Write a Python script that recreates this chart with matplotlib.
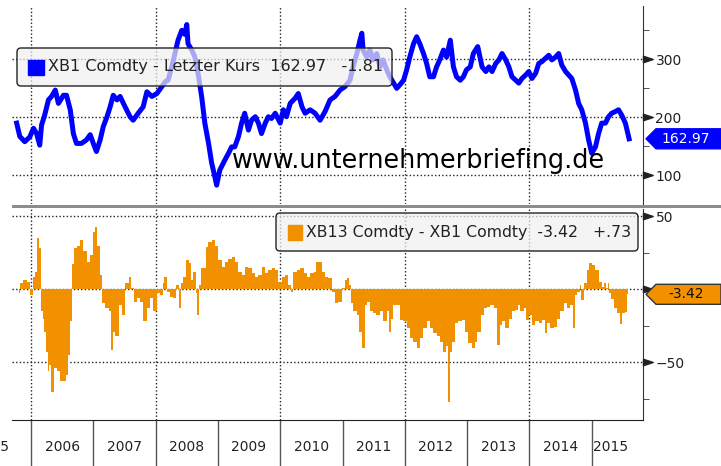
import matplotlib
matplotlib.use("Agg")
from matplotlib import pyplot as plt
from matplotlib.patches import FancyBboxPatch, Polygon, Rectangle
from matplotlib.path import Path
import matplotlib.transforms as mtransforms

# XB1 Comdty - last price
xb1_dates = [
    2005.77, 2005.82, 2005.90, 2005.98, 2006.04, 2006.09, 2006.14, 2006.17, 2006.22, 2006.28,
    2006.33, 2006.39, 2006.44, 2006.52, 2006.57, 2006.63, 2006.68, 2006.73, 2006.81, 2006.89,
    2006.95, 2007.00, 2007.05, 2007.11, 2007.16, 2007.22, 2007.27, 2007.32, 2007.38, 2007.43,
    2007.51, 2007.59, 2007.64, 2007.72, 2007.80, 2007.86, 2007.94, 2008.02, 2008.10, 2008.16,
    2008.20, 2008.26, 2008.31, 2008.36, 2008.42, 2008.47, 2008.50, 2008.52, 2008.58, 2008.63,
    2008.69, 2008.74, 2008.79, 2008.85, 2008.90, 2008.95, 2008.98, 2009.03, 2009.11, 2009.17,
    2009.22, 2009.27, 2009.33, 2009.38, 2009.43, 2009.49, 2009.54, 2009.60, 2009.65, 2009.70,
    2009.76, 2009.81, 2009.86, 2009.92, 2010.00, 2010.05, 2010.10, 2010.16, 2010.24, 2010.29,
    2010.35, 2010.40, 2010.48, 2010.56, 2010.64, 2010.72, 2010.80, 2010.88, 2010.96, 2011.04,
    2011.12, 2011.17, 2011.23, 2011.28, 2011.31, 2011.33, 2011.39, 2011.44, 2011.49, 2011.55,
    2011.60, 2011.65, 2011.71, 2011.76, 2011.82, 2011.87, 2011.92, 2011.98, 2012.03, 2012.08,
    2012.14, 2012.19, 2012.24, 2012.30, 2012.35, 2012.40, 2012.46, 2012.51, 2012.56, 2012.62,
    2012.67, 2012.73, 2012.78, 2012.83, 2012.89, 2012.94, 2012.99, 2013.05, 2013.10, 2013.17,
    2013.24, 2013.30, 2013.35, 2013.40, 2013.46, 2013.51, 2013.56, 2013.62, 2013.67, 2013.72,
    2013.78, 2013.83, 2013.88, 2013.94, 2013.99, 2014.04, 2014.10, 2014.15, 2014.20, 2014.26,
    2014.31, 2014.36, 2014.42, 2014.47, 2014.52, 2014.58, 2014.63, 2014.68, 2014.74, 2014.79,
    2014.84, 2014.90, 2014.95, 2015.00, 2015.06, 2015.11, 2015.16, 2015.22, 2015.27, 2015.32,
    2015.38, 2015.43, 2015.48, 2015.54, 2015.58, 2015.60,
]
xb1_values = [
    190, 167, 158, 166, 181, 172, 152, 187, 204, 230,
    236, 247, 224, 238, 238, 213, 172, 155, 155, 161,
    170, 155, 141, 161, 184, 201, 218, 238, 230, 236,
    218, 201, 195, 207, 218, 244, 236, 241, 253, 262,
    264, 287, 310, 333, 350, 343, 360, 327, 316, 304,
    270, 235, 190, 155, 121, 98, 83, 109, 126, 138,
    149, 149, 167, 190, 207, 178, 195, 201, 190, 172,
    190, 201, 198, 207, 190, 213, 201, 224, 233, 241,
    218, 207, 213, 207, 195, 210, 230, 236, 247, 253,
    264, 287, 310, 333, 345, 316, 304, 316, 299, 310,
    287, 299, 282, 270, 259, 250, 256, 264, 282, 304,
    327, 339, 327, 310, 293, 270, 270, 287, 299, 316,
    304, 333, 287, 270, 264, 270, 282, 287, 310, 322,
    287, 279, 287, 279, 293, 299, 310, 299, 287, 270,
    264, 259, 267, 273, 279, 267, 276, 293, 296, 302,
    307, 299, 304, 310, 290, 279, 273, 267, 247, 224,
    213, 190, 161, 138, 149, 172, 190, 190, 201, 207,
    210, 213, 204, 190, 172, 162.97,
]

# XB13 Comdty - XB1 Comdty spread
spread_dates = [
    2005.80, 2005.85, 2005.90, 2005.96, 2006.01, 2006.05, 2006.08, 2006.12, 2006.14, 2006.17,
    2006.20, 2006.22, 2006.25, 2006.28, 2006.30, 2006.35, 2006.39, 2006.44, 2006.49, 2006.55,
    2006.58, 2006.61, 2006.65, 2006.68, 2006.71, 2006.76, 2006.81, 2006.87, 2006.92, 2006.97,
    2007.01, 2007.04, 2007.08, 2007.12, 2007.16, 2007.22, 2007.27, 2007.30, 2007.33, 2007.38,
    2007.43, 2007.48, 2007.54, 2007.59, 2007.63, 2007.67, 2007.72, 2007.78, 2007.83, 2007.88,
    2007.94, 2007.99, 2008.04, 2008.10, 2008.13, 2008.15, 2008.20, 2008.26, 2008.31, 2008.36,
    2008.39, 2008.42, 2008.47, 2008.52, 2008.55, 2008.58, 2008.63, 2008.66, 2008.68, 2008.71,
    2008.74, 2008.79, 2008.82, 2008.87, 2008.93, 2008.98, 2009.03, 2009.09, 2009.14, 2009.19,
    2009.25, 2009.30, 2009.35, 2009.41, 2009.46, 2009.52, 2009.57, 2009.62, 2009.68, 2009.73,
    2009.78, 2009.84, 2009.89, 2009.94, 2010.00, 2010.05, 2010.10, 2010.16, 2010.18, 2010.24,
    2010.29, 2010.35, 2010.40, 2010.45, 2010.51, 2010.56, 2010.60, 2010.64, 2010.69, 2010.75,
    2010.80, 2010.85, 2010.91, 2010.96, 2011.01, 2011.07, 2011.09, 2011.12, 2011.15, 2011.20,
    2011.25, 2011.28, 2011.31, 2011.33, 2011.39, 2011.41, 2011.47, 2011.52, 2011.57, 2011.63,
    2011.68, 2011.74, 2011.76, 2011.79, 2011.84, 2011.90, 2011.95, 2012.00, 2012.06, 2012.11,
    2012.16, 2012.22, 2012.27, 2012.32, 2012.38, 2012.43, 2012.48, 2012.54, 2012.59, 2012.65,
    2012.67, 2012.71, 2012.74, 2012.78, 2012.83, 2012.89, 2012.94, 2012.99, 2013.05, 2013.10,
    2013.14, 2013.19, 2013.24, 2013.30, 2013.35, 2013.40, 2013.46, 2013.51, 2013.54, 2013.59,
    2013.64, 2013.70, 2013.75, 2013.80, 2013.83, 2013.88, 2013.94, 2013.96, 2014.02, 2014.07,
    2014.12, 2014.18, 2014.23, 2014.27, 2014.31, 2014.36, 2014.42, 2014.47, 2014.52, 2014.58,
    2014.63, 2014.68, 2014.71, 2014.74, 2014.79, 2014.82, 2014.85, 2014.90, 2014.94, 2014.98,
    2015.03, 2015.08, 2015.14, 2015.19, 2015.22, 2015.24, 2015.27, 2015.30, 2015.33, 2015.38,
    2015.43, 2015.47, 2015.51, 2015.55, 2015.58,
]
spread_values = [
    -2.7, 4.1, 6.4, 5.3, -3.9, 8.7, 12.0, 35.0, 28.0, -15.0,
    -20.0, -29.0, -43.0, -56.0, -52.0, -70.0, -54.0, -56.0, -63.0, -63.0,
    -59.0, -45.0, -22.0, 17.0, 28.0, 30.0, 34.0, 26.0, 19.0, 23.5,
    39.5, 43.0, 30.0, 10.0, -9.6, -13.0, -15.0, -41.5, -29.0, -32.0,
    -10.7, -17.6, 4.1, 8.7, 0.7, -8.4, -6.2, -8.4, -22.0, -13.0,
    -6.2, -15.0, -2.7, -3.9, 4.1, 8.7, -1.6, -5.0, -6.2, 3.0,
    -13.0, 4.1, 8.7, 20.0, 17.8, 6.4, 12.0, -2.7, -17.6, 3.0,
    14.4, 14.4, 29.0, 32.6, 33.8, 30.0, 20.0, 15.5, 19.0, 21.0,
    22.4, 19.0, 12.0, 10.0, 15.5, 14.4, 11.0, 8.7, 10.0, 15.5,
    11.0, 13.2, 14.4, 13.2, 5.3, 8.7, 10.0, 3.0, -1.6, 12.0,
    13.2, 14.4, 11.0, 8.7, 11.0, 12.0, 19.0, 19.0, 12.0, 8.7,
    7.5, -1.6, -9.6, -8.4, 0.7, 6.4, 7.5, 3.0, -9.6, -15.0,
    -17.6, -29.0, -29.0, -40.0, -10.7, -8.4, -15.0, -16.4, -17.6, -15.0,
    -22.0, -15.0, -29.0, -20.0, -10.7, -10.7, -21.0, -22.0, -26.7, -33.6,
    -36.0, -40.0, -33.6, -26.7, -22.0, -26.7, -30.0, -32.0, -36.0, -42.7,
    -39.0, -77.0, -42.7, -36.0, -23.0, -22.0, -21.0, -29.0, -37.0, -40.0,
    -36.0, -29.0, -17.6, -13.0, -12.0, -10.7, -13.0, -38.0, -24.4, -22.0,
    -26.7, -20.0, -15.0, -14.0, -10.7, -15.0, -13.0, -21.0, -17.6, -24.4,
    -22.0, -23.0, -21.0, -30.0, -23.0, -26.7, -25.6, -20.0, -15.0, -9.6,
    -13.0, -10.7, -26.7, -3.9, -1.6, 3.0, -7.3, 4.1, 13.2, 17.8,
    16.7, 13.2, 5.3, 1.8, 4.1, 0.7, 4.1, -2.7, -6.8, -12.6,
    -16.0, -24.0, -16.0, -15.3, -3.42,
]

last_xb1, chg_xb1 = 162.97, "-1.81"
last_spread, chg_spread = -3.42, "+.73"

year_bounds = list(range(2006, 2016))
year_labels = [str(y) for y in range(2005, 2016)]
year_label_pos = [2005.36, 2006.5, 2007.5, 2008.5, 2009.5, 2010.5, 2011.5,
                  2012.5, 2013.5, 2014.5, 2015.3]
grid_years = [2006, 2008, 2010, 2012, 2014]
top_ticks, top_minor = [100, 200, 300], [50, 150, 250, 350]
bot_ticks, bot_minor = [-50, 0, 50], [-75, -25, 25]

BLUE = "#0000ff"
ORANGE = "#f29100"
DOT = (0, (1, 1.6))

W, H = 721, 466
fig = plt.figure(figsize=(W / 100, H / 100), dpi=100)


def fx(px):
    return px / W


def fy(py):
    return 1 - py / H


ax1 = fig.add_axes([fx(12), fy(204), fx(643) - fx(12), fy(6) - fy(204)])
ax2 = fig.add_axes([fx(12), fy(420), fx(643) - fx(12), fy(209) - fy(420)])

tri = Path([(0, -1), (0, 1), (3, 0), (0, -1)],
           [Path.MOVETO, Path.LINETO, Path.LINETO, Path.CLOSEPOLY])

for ax, major, minor in ((ax1, top_ticks, top_minor), (ax2, bot_ticks, bot_minor)):
    ax.set_xlim(2005.695, 2015.823)
    for s in ["left", "top", "bottom"]:
        ax.spines[s].set_visible(False)
    ax.spines["right"].set_color("#333333")
    ax.yaxis.tick_right()
    ax.set_yticks(major)
    ax.set_yticks(minor, minor=True)
    ax.tick_params(axis="y", which="both", direction="out", colors="#333333",
                   labelcolor="#222222", labelsize=10, length=4, pad=5)
    ax.grid(axis="y", which="major", color="#222222", linestyle=DOT, lw=1)
    for g in grid_years:
        ax.axvline(g, color="#222222", linestyle=DOT, lw=1, zorder=1)
    trans = mtransforms.blended_transform_factory(ax.transAxes, ax.transData)
    ax.plot([1.0] * len(major), major, transform=trans, marker=tri, ms=14,
            color="#222222", ls="none", clip_on=False, zorder=5)

ax1.set_ylim(50.5, 392)
ax1.tick_params(axis="x", which="both", bottom=False, labelbottom=False)
ax1.plot(xb1_dates, xb1_values, color=BLUE, lw=3.6, zorder=3)

ax2.set_ylim(-89.5, 55)
ax2.fill_between(spread_dates, spread_values, 0, color=ORANGE, lw=0,
                 step="mid", zorder=3)
ax2.spines["bottom"].set_visible(True)
ax2.spines["bottom"].set_color("#222222")
ax2.set_xticks(year_bounds)
ax2.set_xticklabels([])
ax2.tick_params(axis="x", which="major", length=33, color="#555555", width=1)
xtrans = mtransforms.blended_transform_factory(ax2.transData, ax2.transAxes)
for pos, lab in zip(year_label_pos, year_labels):
    ax2.text(pos, -0.128, lab, transform=xtrans, ha="center", va="center",
             fontsize=10, color="#222222", clip_on=False)

# grey separator between the panels
fig.add_artist(Rectangle((fx(12), fy(208)), 1 - fx(12), fy(205) - fy(208),
                         transform=fig.transFigure, color="#8c8c8c", lw=0))

ident = mtransforms.IdentityTransform()


def legend_box(x0, y0, x1, y1, color, text, sq, size):
    fig.add_artist(FancyBboxPatch((x0, H - y1), x1 - x0, y1 - y0,
                                  boxstyle="round,pad=0,rounding_size=4",
                                  transform=ident, facecolor="#f0f0f0", alpha=0.7,
                                  edgecolor="none", zorder=6))
    fig.add_artist(FancyBboxPatch((x0, H - y1), x1 - x0, y1 - y0,
                                  boxstyle="round,pad=0,rounding_size=4",
                                  transform=ident, facecolor="none",
                                  edgecolor="#222222", lw=1, zorder=7))
    fig.add_artist(Rectangle((sq[0], H - sq[3]), sq[2] - sq[0], sq[3] - sq[1],
                             transform=ident, color=color, zorder=7))
    fig.text(fx(sq[2] + 4), fy((y0 + y1) / 2), text, fontsize=size, color="#222222",
             va="center", ha="left", zorder=8)


legend_box(17, 48, 392, 86, BLUE,
           "XB1 Comdty - Letzter Kurs  %.2f   %s" % (last_xb1, chg_xb1),
           (28, 60, 44, 75), 11.5)
legend_box(276, 213, 638, 251, ORANGE,
           "XB13 Comdty - XB1 Comdty  %.2f   %s" % (last_spread, chg_spread),
           (288, 225, 302, 240), 11.3)

fig.text(fx(232), fy(161), "www.unternehmerbriefing.de", fontsize=18.4,
         color="black", va="center", ha="left", zorder=8)


def value_tag(ax, value, fc, tc, ec):
    yc = ax.transData.transform((2010, value))[1]
    verts = [(646, yc), (656, yc + 10), (721, yc + 10), (721, yc - 10), (656, yc - 10)]
    fig.add_artist(Polygon(verts, closed=True, transform=ident, facecolor=fc,
                           edgecolor=ec, lw=1, zorder=8))
    fig.text(fx(686), yc / H, "%.2f" % value, fontsize=10, color=tc,
             ha="center", va="center", zorder=9)


value_tag(ax1, last_xb1, BLUE, "white", BLUE)
value_tag(ax2, last_spread, ORANGE, "#111111", "#333333")

fig.savefig("out.png", dpi=100)
